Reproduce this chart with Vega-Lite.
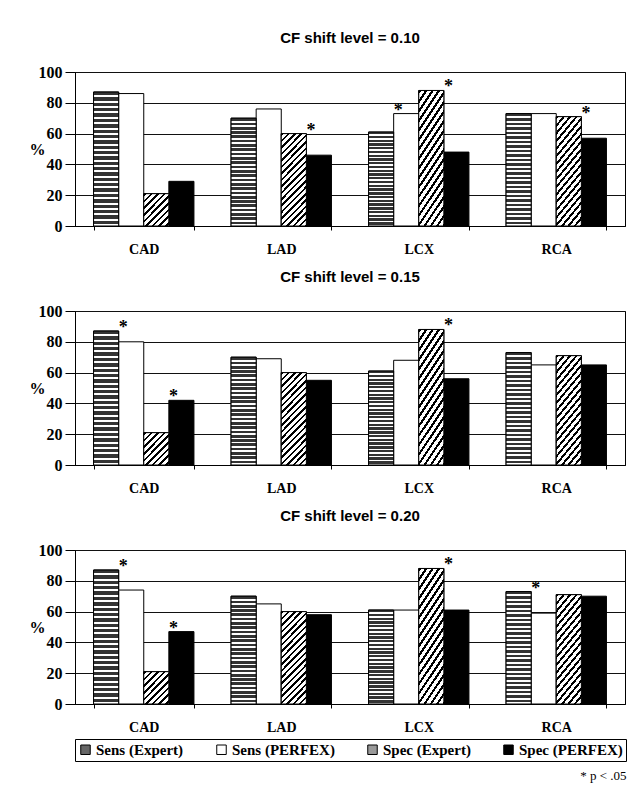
{
  "$schema": "https://vega.github.io/schema/vega-lite/v6.json",
  "padding": {"left": 28, "top": 30, "right": 0, "bottom": 0},
  "background": "white",
  "datasets": {
    "bars": [
      {"shift": "0.10", "region": "CAD", "series": "Sens (Expert)", "value": 87},
      {"shift": "0.10", "region": "CAD", "series": "Sens (PERFEX)", "value": 86},
      {"shift": "0.10", "region": "CAD", "series": "Spec (Expert)", "value": 21},
      {"shift": "0.10", "region": "CAD", "series": "Spec (PERFEX)", "value": 29},
      {"shift": "0.10", "region": "LAD", "series": "Sens (Expert)", "value": 70},
      {"shift": "0.10", "region": "LAD", "series": "Sens (PERFEX)", "value": 76},
      {"shift": "0.10", "region": "LAD", "series": "Spec (Expert)", "value": 60},
      {"shift": "0.10", "region": "LAD", "series": "Spec (PERFEX)", "value": 46},
      {"shift": "0.10", "region": "LCX", "series": "Sens (Expert)", "value": 61},
      {"shift": "0.10", "region": "LCX", "series": "Sens (PERFEX)", "value": 73},
      {"shift": "0.10", "region": "LCX", "series": "Spec (Expert)", "value": 88},
      {"shift": "0.10", "region": "LCX", "series": "Spec (PERFEX)", "value": 48},
      {"shift": "0.10", "region": "RCA", "series": "Sens (Expert)", "value": 73},
      {"shift": "0.10", "region": "RCA", "series": "Sens (PERFEX)", "value": 73},
      {"shift": "0.10", "region": "RCA", "series": "Spec (Expert)", "value": 71},
      {"shift": "0.10", "region": "RCA", "series": "Spec (PERFEX)", "value": 57},
      {"shift": "0.15", "region": "CAD", "series": "Sens (Expert)", "value": 87},
      {"shift": "0.15", "region": "CAD", "series": "Sens (PERFEX)", "value": 80},
      {"shift": "0.15", "region": "CAD", "series": "Spec (Expert)", "value": 21},
      {"shift": "0.15", "region": "CAD", "series": "Spec (PERFEX)", "value": 42},
      {"shift": "0.15", "region": "LAD", "series": "Sens (Expert)", "value": 70},
      {"shift": "0.15", "region": "LAD", "series": "Sens (PERFEX)", "value": 69},
      {"shift": "0.15", "region": "LAD", "series": "Spec (Expert)", "value": 60},
      {"shift": "0.15", "region": "LAD", "series": "Spec (PERFEX)", "value": 55},
      {"shift": "0.15", "region": "LCX", "series": "Sens (Expert)", "value": 61},
      {"shift": "0.15", "region": "LCX", "series": "Sens (PERFEX)", "value": 68},
      {"shift": "0.15", "region": "LCX", "series": "Spec (Expert)", "value": 88},
      {"shift": "0.15", "region": "LCX", "series": "Spec (PERFEX)", "value": 56},
      {"shift": "0.15", "region": "RCA", "series": "Sens (Expert)", "value": 73},
      {"shift": "0.15", "region": "RCA", "series": "Sens (PERFEX)", "value": 65},
      {"shift": "0.15", "region": "RCA", "series": "Spec (Expert)", "value": 71},
      {"shift": "0.15", "region": "RCA", "series": "Spec (PERFEX)", "value": 65},
      {"shift": "0.20", "region": "CAD", "series": "Sens (Expert)", "value": 87},
      {"shift": "0.20", "region": "CAD", "series": "Sens (PERFEX)", "value": 74},
      {"shift": "0.20", "region": "CAD", "series": "Spec (Expert)", "value": 21},
      {"shift": "0.20", "region": "CAD", "series": "Spec (PERFEX)", "value": 47},
      {"shift": "0.20", "region": "LAD", "series": "Sens (Expert)", "value": 70},
      {"shift": "0.20", "region": "LAD", "series": "Sens (PERFEX)", "value": 65},
      {"shift": "0.20", "region": "LAD", "series": "Spec (Expert)", "value": 60},
      {"shift": "0.20", "region": "LAD", "series": "Spec (PERFEX)", "value": 58},
      {"shift": "0.20", "region": "LCX", "series": "Sens (Expert)", "value": 61},
      {"shift": "0.20", "region": "LCX", "series": "Sens (PERFEX)", "value": 61},
      {"shift": "0.20", "region": "LCX", "series": "Spec (Expert)", "value": 88},
      {"shift": "0.20", "region": "LCX", "series": "Spec (PERFEX)", "value": 61},
      {"shift": "0.20", "region": "RCA", "series": "Sens (Expert)", "value": 73},
      {"shift": "0.20", "region": "RCA", "series": "Sens (PERFEX)", "value": 59},
      {"shift": "0.20", "region": "RCA", "series": "Spec (Expert)", "value": 71},
      {"shift": "0.20", "region": "RCA", "series": "Spec (PERFEX)", "value": 70}
    ],
    "stars": [
      {"shift": "0.10", "region": "LAD", "series": "Spec (PERFEX)", "value": 60},
      {"shift": "0.10", "region": "LCX", "series": "Sens (PERFEX)", "value": 73},
      {"shift": "0.10", "region": "LCX", "series": "Spec (PERFEX)", "value": 88},
      {"shift": "0.10", "region": "RCA", "series": "Spec (PERFEX)", "value": 71},
      {"shift": "0.15", "region": "CAD", "series": "Sens (PERFEX)", "value": 87},
      {"shift": "0.15", "region": "CAD", "series": "Spec (PERFEX)", "value": 42},
      {"shift": "0.15", "region": "LCX", "series": "Spec (PERFEX)", "value": 88},
      {"shift": "0.20", "region": "CAD", "series": "Sens (PERFEX)", "value": 87},
      {"shift": "0.20", "region": "CAD", "series": "Spec (PERFEX)", "value": 47},
      {"shift": "0.20", "region": "LCX", "series": "Spec (PERFEX)", "value": 88},
      {"shift": "0.20", "region": "RCA", "series": "Sens (PERFEX)", "value": 73}
    ]
  },
  "title": {"text": "* p < .05", "orient": "bottom", "anchor": "end", "font": "Liberation Serif", "fontSize": 13, "fontWeight": "normal", "color": "black", "offset": 8},
  "spacing": 12,
  "vconcat": [
    {
      "title": {"text": "CF shift level = 0.10"},
      "width": 550, "height": 154,
      "encoding": {
        "x": {"field": "region", "type": "nominal", "sort": ["CAD", "LAD", "LCX", "RCA"], "scale": {"paddingInner": 0.27, "paddingOuter": 0.135}, "axis": {"title": null}},
        "xOffset": {"field": "series", "type": "nominal", "scale": {"domain": ["Sens (Expert)", "Sens (PERFEX)", "Spec (Expert)", "Spec (PERFEX)"], "paddingInner": 0, "paddingOuter": 0}},
        "y": {"field": "value", "type": "quantitative", "scale": {"domain": [0, 100]}, "axis": {"title": "%"}}
      },
      "layer": [
        {"data": {"name": "bars"}, "transform": [{"filter": "datum.shift === '0.10'"}],
         "mark": {"type": "bar", "stroke": "black", "strokeWidth": 1, "opacity": 1},
         "encoding": {"color": {"field": "series", "type": "nominal", "scale": {"domain": ["Sens (Expert)", "Sens (PERFEX)", "Spec (Expert)", "Spec (PERFEX)"], "range": ["#666666", "#ffffff", "#9a9a9a", "#000000"]}, "legend": {"title": null}}}},
        {"data": {"name": "bars"}, "transform": [{"filter": "datum.shift === '0.10' && datum.series === 'Sens (Expert)'"}],
         "mark": {"type": "bar", "stroke": "black", "strokeWidth": 1, "fill": {"gradient": "linear", "x1": 0, "y1": 0, "x2": 0, "y2": 1, "stops": [
               {"offset": 0, "color": "#333"}, {"offset": 0.025, "color": "#333"}, {"offset": 0.025, "color": "#fff"}, {"offset": 0.04, "color": "#fff"},
               {"offset": 0.04, "color": "#333"}, {"offset": 0.065, "color": "#333"}, {"offset": 0.065, "color": "#fff"}, {"offset": 0.08, "color": "#fff"},
               {"offset": 0.08, "color": "#333"}, {"offset": 0.105, "color": "#333"}, {"offset": 0.105, "color": "#fff"}, {"offset": 0.12, "color": "#fff"},
               {"offset": 0.12, "color": "#333"}, {"offset": 0.145, "color": "#333"}, {"offset": 0.145, "color": "#fff"}, {"offset": 0.16, "color": "#fff"},
               {"offset": 0.16, "color": "#333"}, {"offset": 0.185, "color": "#333"}, {"offset": 0.185, "color": "#fff"}, {"offset": 0.2, "color": "#fff"},
               {"offset": 0.2, "color": "#333"}, {"offset": 0.225, "color": "#333"}, {"offset": 0.225, "color": "#fff"}, {"offset": 0.24, "color": "#fff"},
               {"offset": 0.24, "color": "#333"}, {"offset": 0.265, "color": "#333"}, {"offset": 0.265, "color": "#fff"}, {"offset": 0.28, "color": "#fff"},
               {"offset": 0.28, "color": "#333"}, {"offset": 0.305, "color": "#333"}, {"offset": 0.305, "color": "#fff"}, {"offset": 0.32, "color": "#fff"},
               {"offset": 0.32, "color": "#333"}, {"offset": 0.345, "color": "#333"}, {"offset": 0.345, "color": "#fff"}, {"offset": 0.36, "color": "#fff"},
               {"offset": 0.36, "color": "#333"}, {"offset": 0.385, "color": "#333"}, {"offset": 0.385, "color": "#fff"}, {"offset": 0.4, "color": "#fff"},
               {"offset": 0.4, "color": "#333"}, {"offset": 0.425, "color": "#333"}, {"offset": 0.425, "color": "#fff"}, {"offset": 0.44, "color": "#fff"},
               {"offset": 0.44, "color": "#333"}, {"offset": 0.465, "color": "#333"}, {"offset": 0.465, "color": "#fff"}, {"offset": 0.48, "color": "#fff"},
               {"offset": 0.48, "color": "#333"}, {"offset": 0.505, "color": "#333"}, {"offset": 0.505, "color": "#fff"}, {"offset": 0.52, "color": "#fff"},
               {"offset": 0.52, "color": "#333"}, {"offset": 0.545, "color": "#333"}, {"offset": 0.545, "color": "#fff"}, {"offset": 0.56, "color": "#fff"},
               {"offset": 0.56, "color": "#333"}, {"offset": 0.585, "color": "#333"}, {"offset": 0.585, "color": "#fff"}, {"offset": 0.6, "color": "#fff"},
               {"offset": 0.6, "color": "#333"}, {"offset": 0.625, "color": "#333"}, {"offset": 0.625, "color": "#fff"}, {"offset": 0.64, "color": "#fff"},
               {"offset": 0.64, "color": "#333"}, {"offset": 0.665, "color": "#333"}, {"offset": 0.665, "color": "#fff"}, {"offset": 0.68, "color": "#fff"},
               {"offset": 0.68, "color": "#333"}, {"offset": 0.705, "color": "#333"}, {"offset": 0.705, "color": "#fff"}, {"offset": 0.72, "color": "#fff"},
               {"offset": 0.72, "color": "#333"}, {"offset": 0.745, "color": "#333"}, {"offset": 0.745, "color": "#fff"}, {"offset": 0.76, "color": "#fff"},
               {"offset": 0.76, "color": "#333"}, {"offset": 0.785, "color": "#333"}, {"offset": 0.785, "color": "#fff"}, {"offset": 0.8, "color": "#fff"},
               {"offset": 0.8, "color": "#333"}, {"offset": 0.825, "color": "#333"}, {"offset": 0.825, "color": "#fff"}, {"offset": 0.84, "color": "#fff"},
               {"offset": 0.84, "color": "#333"}, {"offset": 0.865, "color": "#333"}, {"offset": 0.865, "color": "#fff"}, {"offset": 0.88, "color": "#fff"},
               {"offset": 0.88, "color": "#333"}, {"offset": 0.905, "color": "#333"}, {"offset": 0.905, "color": "#fff"}, {"offset": 0.92, "color": "#fff"},
               {"offset": 0.92, "color": "#333"}, {"offset": 0.945, "color": "#333"}, {"offset": 0.945, "color": "#fff"}, {"offset": 0.96, "color": "#fff"},
               {"offset": 0.96, "color": "#333"}, {"offset": 0.985, "color": "#333"}, {"offset": 0.985, "color": "#fff"}, {"offset": 1, "color": "#fff"}
             ]}},
         "encoding": {}},
        {"data": {"name": "bars"}, "transform": [{"filter": "datum.shift === '0.10' && datum.series === 'Spec (Expert)' && datum.value >= 40"}],
         "mark": {"type": "bar", "stroke": "black", "strokeWidth": 1, "fill": {"gradient": "linear", "x1": 0, "y1": 0, "x2": 0.36, "y2": 1.3, "stops": [
               {"offset": 0, "color": "#000"}, {"offset": 0.02, "color": "#000"}, {"offset": 0.02, "color": "#fff"}, {"offset": 0.05, "color": "#fff"},
               {"offset": 0.05, "color": "#000"}, {"offset": 0.07, "color": "#000"}, {"offset": 0.07, "color": "#fff"}, {"offset": 0.1, "color": "#fff"},
               {"offset": 0.1, "color": "#000"}, {"offset": 0.12, "color": "#000"}, {"offset": 0.12, "color": "#fff"}, {"offset": 0.15, "color": "#fff"},
               {"offset": 0.15, "color": "#000"}, {"offset": 0.17, "color": "#000"}, {"offset": 0.17, "color": "#fff"}, {"offset": 0.2, "color": "#fff"},
               {"offset": 0.2, "color": "#000"}, {"offset": 0.22, "color": "#000"}, {"offset": 0.22, "color": "#fff"}, {"offset": 0.25, "color": "#fff"},
               {"offset": 0.25, "color": "#000"}, {"offset": 0.27, "color": "#000"}, {"offset": 0.27, "color": "#fff"}, {"offset": 0.3, "color": "#fff"},
               {"offset": 0.3, "color": "#000"}, {"offset": 0.32, "color": "#000"}, {"offset": 0.32, "color": "#fff"}, {"offset": 0.35, "color": "#fff"},
               {"offset": 0.35, "color": "#000"}, {"offset": 0.37, "color": "#000"}, {"offset": 0.37, "color": "#fff"}, {"offset": 0.4, "color": "#fff"},
               {"offset": 0.4, "color": "#000"}, {"offset": 0.42, "color": "#000"}, {"offset": 0.42, "color": "#fff"}, {"offset": 0.45, "color": "#fff"},
               {"offset": 0.45, "color": "#000"}, {"offset": 0.47, "color": "#000"}, {"offset": 0.47, "color": "#fff"}, {"offset": 0.5, "color": "#fff"},
               {"offset": 0.5, "color": "#000"}, {"offset": 0.52, "color": "#000"}, {"offset": 0.52, "color": "#fff"}, {"offset": 0.55, "color": "#fff"},
               {"offset": 0.55, "color": "#000"}, {"offset": 0.57, "color": "#000"}, {"offset": 0.57, "color": "#fff"}, {"offset": 0.6, "color": "#fff"},
               {"offset": 0.6, "color": "#000"}, {"offset": 0.62, "color": "#000"}, {"offset": 0.62, "color": "#fff"}, {"offset": 0.65, "color": "#fff"},
               {"offset": 0.65, "color": "#000"}, {"offset": 0.67, "color": "#000"}, {"offset": 0.67, "color": "#fff"}, {"offset": 0.7, "color": "#fff"},
               {"offset": 0.7, "color": "#000"}, {"offset": 0.72, "color": "#000"}, {"offset": 0.72, "color": "#fff"}, {"offset": 0.75, "color": "#fff"},
               {"offset": 0.75, "color": "#000"}, {"offset": 0.77, "color": "#000"}, {"offset": 0.77, "color": "#fff"}, {"offset": 0.8, "color": "#fff"},
               {"offset": 0.8, "color": "#000"}, {"offset": 0.82, "color": "#000"}, {"offset": 0.82, "color": "#fff"}, {"offset": 0.85, "color": "#fff"},
               {"offset": 0.85, "color": "#000"}, {"offset": 0.87, "color": "#000"}, {"offset": 0.87, "color": "#fff"}, {"offset": 0.9, "color": "#fff"},
               {"offset": 0.9, "color": "#000"}, {"offset": 0.92, "color": "#000"}, {"offset": 0.92, "color": "#fff"}, {"offset": 0.95, "color": "#fff"},
               {"offset": 0.95, "color": "#000"}, {"offset": 0.97, "color": "#000"}, {"offset": 0.97, "color": "#fff"}, {"offset": 1, "color": "#fff"}
             ]}},
         "encoding": {}},
        {"data": {"name": "bars"}, "transform": [{"filter": "datum.shift === '0.10' && datum.series === 'Spec (Expert)' && datum.value < 40"}],
         "mark": {"type": "bar", "stroke": "black", "strokeWidth": 1, "fill": {"gradient": "linear", "x1": 0, "y1": 0, "x2": 0.9, "y2": 1.15, "stops": [
               {"offset": 0, "color": "#000"}, {"offset": 0.045, "color": "#000"}, {"offset": 0.045, "color": "#fff"}, {"offset": 0.1111, "color": "#fff"},
               {"offset": 0.1111, "color": "#000"}, {"offset": 0.1561, "color": "#000"}, {"offset": 0.1561, "color": "#fff"}, {"offset": 0.2222, "color": "#fff"},
               {"offset": 0.2222, "color": "#000"}, {"offset": 0.2672, "color": "#000"}, {"offset": 0.2672, "color": "#fff"}, {"offset": 0.3333, "color": "#fff"},
               {"offset": 0.3333, "color": "#000"}, {"offset": 0.3783, "color": "#000"}, {"offset": 0.3783, "color": "#fff"}, {"offset": 0.4444, "color": "#fff"},
               {"offset": 0.4444, "color": "#000"}, {"offset": 0.4894, "color": "#000"}, {"offset": 0.4894, "color": "#fff"}, {"offset": 0.5556, "color": "#fff"},
               {"offset": 0.5556, "color": "#000"}, {"offset": 0.6006, "color": "#000"}, {"offset": 0.6006, "color": "#fff"}, {"offset": 0.6667, "color": "#fff"},
               {"offset": 0.6667, "color": "#000"}, {"offset": 0.7117, "color": "#000"}, {"offset": 0.7117, "color": "#fff"}, {"offset": 0.7778, "color": "#fff"},
               {"offset": 0.7778, "color": "#000"}, {"offset": 0.8228, "color": "#000"}, {"offset": 0.8228, "color": "#fff"}, {"offset": 0.8889, "color": "#fff"},
               {"offset": 0.8889, "color": "#000"}, {"offset": 0.9339, "color": "#000"}, {"offset": 0.9339, "color": "#fff"}, {"offset": 1, "color": "#fff"}
             ]}},
         "encoding": {}},
        {"data": {"name": "stars"}, "transform": [{"filter": "datum.shift === '0.10'"}],
         "mark": {"type": "text", "text": "*", "font": "Liberation Serif", "fontSize": 18, "fontWeight": "bold", "color": "black", "baseline": "middle", "dx": -8, "dy": -3},
         "encoding": {}}
      ]
    },
    {
      "title": {"text": "CF shift level = 0.15"},
      "width": 550, "height": 154,
      "encoding": {
        "x": {"field": "region", "type": "nominal", "sort": ["CAD", "LAD", "LCX", "RCA"], "scale": {"paddingInner": 0.27, "paddingOuter": 0.135}, "axis": {"title": null}},
        "xOffset": {"field": "series", "type": "nominal", "scale": {"domain": ["Sens (Expert)", "Sens (PERFEX)", "Spec (Expert)", "Spec (PERFEX)"], "paddingInner": 0, "paddingOuter": 0}},
        "y": {"field": "value", "type": "quantitative", "scale": {"domain": [0, 100]}, "axis": {"title": "%"}}
      },
      "layer": [
        {"data": {"name": "bars"}, "transform": [{"filter": "datum.shift === '0.15'"}],
         "mark": {"type": "bar", "stroke": "black", "strokeWidth": 1, "opacity": 1},
         "encoding": {"color": {"field": "series", "type": "nominal", "legend": {"title": null}}}},
        {"data": {"name": "bars"}, "transform": [{"filter": "datum.shift === '0.15' && datum.series === 'Sens (Expert)'"}],
         "mark": {"type": "bar", "stroke": "black", "strokeWidth": 1, "fill": {"gradient": "linear", "x1": 0, "y1": 0, "x2": 0, "y2": 1, "stops": [
               {"offset": 0, "color": "#333"}, {"offset": 0.025, "color": "#333"}, {"offset": 0.025, "color": "#fff"}, {"offset": 0.04, "color": "#fff"},
               {"offset": 0.04, "color": "#333"}, {"offset": 0.065, "color": "#333"}, {"offset": 0.065, "color": "#fff"}, {"offset": 0.08, "color": "#fff"},
               {"offset": 0.08, "color": "#333"}, {"offset": 0.105, "color": "#333"}, {"offset": 0.105, "color": "#fff"}, {"offset": 0.12, "color": "#fff"},
               {"offset": 0.12, "color": "#333"}, {"offset": 0.145, "color": "#333"}, {"offset": 0.145, "color": "#fff"}, {"offset": 0.16, "color": "#fff"},
               {"offset": 0.16, "color": "#333"}, {"offset": 0.185, "color": "#333"}, {"offset": 0.185, "color": "#fff"}, {"offset": 0.2, "color": "#fff"},
               {"offset": 0.2, "color": "#333"}, {"offset": 0.225, "color": "#333"}, {"offset": 0.225, "color": "#fff"}, {"offset": 0.24, "color": "#fff"},
               {"offset": 0.24, "color": "#333"}, {"offset": 0.265, "color": "#333"}, {"offset": 0.265, "color": "#fff"}, {"offset": 0.28, "color": "#fff"},
               {"offset": 0.28, "color": "#333"}, {"offset": 0.305, "color": "#333"}, {"offset": 0.305, "color": "#fff"}, {"offset": 0.32, "color": "#fff"},
               {"offset": 0.32, "color": "#333"}, {"offset": 0.345, "color": "#333"}, {"offset": 0.345, "color": "#fff"}, {"offset": 0.36, "color": "#fff"},
               {"offset": 0.36, "color": "#333"}, {"offset": 0.385, "color": "#333"}, {"offset": 0.385, "color": "#fff"}, {"offset": 0.4, "color": "#fff"},
               {"offset": 0.4, "color": "#333"}, {"offset": 0.425, "color": "#333"}, {"offset": 0.425, "color": "#fff"}, {"offset": 0.44, "color": "#fff"},
               {"offset": 0.44, "color": "#333"}, {"offset": 0.465, "color": "#333"}, {"offset": 0.465, "color": "#fff"}, {"offset": 0.48, "color": "#fff"},
               {"offset": 0.48, "color": "#333"}, {"offset": 0.505, "color": "#333"}, {"offset": 0.505, "color": "#fff"}, {"offset": 0.52, "color": "#fff"},
               {"offset": 0.52, "color": "#333"}, {"offset": 0.545, "color": "#333"}, {"offset": 0.545, "color": "#fff"}, {"offset": 0.56, "color": "#fff"},
               {"offset": 0.56, "color": "#333"}, {"offset": 0.585, "color": "#333"}, {"offset": 0.585, "color": "#fff"}, {"offset": 0.6, "color": "#fff"},
               {"offset": 0.6, "color": "#333"}, {"offset": 0.625, "color": "#333"}, {"offset": 0.625, "color": "#fff"}, {"offset": 0.64, "color": "#fff"},
               {"offset": 0.64, "color": "#333"}, {"offset": 0.665, "color": "#333"}, {"offset": 0.665, "color": "#fff"}, {"offset": 0.68, "color": "#fff"},
               {"offset": 0.68, "color": "#333"}, {"offset": 0.705, "color": "#333"}, {"offset": 0.705, "color": "#fff"}, {"offset": 0.72, "color": "#fff"},
               {"offset": 0.72, "color": "#333"}, {"offset": 0.745, "color": "#333"}, {"offset": 0.745, "color": "#fff"}, {"offset": 0.76, "color": "#fff"},
               {"offset": 0.76, "color": "#333"}, {"offset": 0.785, "color": "#333"}, {"offset": 0.785, "color": "#fff"}, {"offset": 0.8, "color": "#fff"},
               {"offset": 0.8, "color": "#333"}, {"offset": 0.825, "color": "#333"}, {"offset": 0.825, "color": "#fff"}, {"offset": 0.84, "color": "#fff"},
               {"offset": 0.84, "color": "#333"}, {"offset": 0.865, "color": "#333"}, {"offset": 0.865, "color": "#fff"}, {"offset": 0.88, "color": "#fff"},
               {"offset": 0.88, "color": "#333"}, {"offset": 0.905, "color": "#333"}, {"offset": 0.905, "color": "#fff"}, {"offset": 0.92, "color": "#fff"},
               {"offset": 0.92, "color": "#333"}, {"offset": 0.945, "color": "#333"}, {"offset": 0.945, "color": "#fff"}, {"offset": 0.96, "color": "#fff"},
               {"offset": 0.96, "color": "#333"}, {"offset": 0.985, "color": "#333"}, {"offset": 0.985, "color": "#fff"}, {"offset": 1, "color": "#fff"}
             ]}},
         "encoding": {}},
        {"data": {"name": "bars"}, "transform": [{"filter": "datum.shift === '0.15' && datum.series === 'Spec (Expert)' && datum.value >= 40"}],
         "mark": {"type": "bar", "stroke": "black", "strokeWidth": 1, "fill": {"gradient": "linear", "x1": 0, "y1": 0, "x2": 0.36, "y2": 1.3, "stops": [
               {"offset": 0, "color": "#000"}, {"offset": 0.02, "color": "#000"}, {"offset": 0.02, "color": "#fff"}, {"offset": 0.05, "color": "#fff"},
               {"offset": 0.05, "color": "#000"}, {"offset": 0.07, "color": "#000"}, {"offset": 0.07, "color": "#fff"}, {"offset": 0.1, "color": "#fff"},
               {"offset": 0.1, "color": "#000"}, {"offset": 0.12, "color": "#000"}, {"offset": 0.12, "color": "#fff"}, {"offset": 0.15, "color": "#fff"},
               {"offset": 0.15, "color": "#000"}, {"offset": 0.17, "color": "#000"}, {"offset": 0.17, "color": "#fff"}, {"offset": 0.2, "color": "#fff"},
               {"offset": 0.2, "color": "#000"}, {"offset": 0.22, "color": "#000"}, {"offset": 0.22, "color": "#fff"}, {"offset": 0.25, "color": "#fff"},
               {"offset": 0.25, "color": "#000"}, {"offset": 0.27, "color": "#000"}, {"offset": 0.27, "color": "#fff"}, {"offset": 0.3, "color": "#fff"},
               {"offset": 0.3, "color": "#000"}, {"offset": 0.32, "color": "#000"}, {"offset": 0.32, "color": "#fff"}, {"offset": 0.35, "color": "#fff"},
               {"offset": 0.35, "color": "#000"}, {"offset": 0.37, "color": "#000"}, {"offset": 0.37, "color": "#fff"}, {"offset": 0.4, "color": "#fff"},
               {"offset": 0.4, "color": "#000"}, {"offset": 0.42, "color": "#000"}, {"offset": 0.42, "color": "#fff"}, {"offset": 0.45, "color": "#fff"},
               {"offset": 0.45, "color": "#000"}, {"offset": 0.47, "color": "#000"}, {"offset": 0.47, "color": "#fff"}, {"offset": 0.5, "color": "#fff"},
               {"offset": 0.5, "color": "#000"}, {"offset": 0.52, "color": "#000"}, {"offset": 0.52, "color": "#fff"}, {"offset": 0.55, "color": "#fff"},
               {"offset": 0.55, "color": "#000"}, {"offset": 0.57, "color": "#000"}, {"offset": 0.57, "color": "#fff"}, {"offset": 0.6, "color": "#fff"},
               {"offset": 0.6, "color": "#000"}, {"offset": 0.62, "color": "#000"}, {"offset": 0.62, "color": "#fff"}, {"offset": 0.65, "color": "#fff"},
               {"offset": 0.65, "color": "#000"}, {"offset": 0.67, "color": "#000"}, {"offset": 0.67, "color": "#fff"}, {"offset": 0.7, "color": "#fff"},
               {"offset": 0.7, "color": "#000"}, {"offset": 0.72, "color": "#000"}, {"offset": 0.72, "color": "#fff"}, {"offset": 0.75, "color": "#fff"},
               {"offset": 0.75, "color": "#000"}, {"offset": 0.77, "color": "#000"}, {"offset": 0.77, "color": "#fff"}, {"offset": 0.8, "color": "#fff"},
               {"offset": 0.8, "color": "#000"}, {"offset": 0.82, "color": "#000"}, {"offset": 0.82, "color": "#fff"}, {"offset": 0.85, "color": "#fff"},
               {"offset": 0.85, "color": "#000"}, {"offset": 0.87, "color": "#000"}, {"offset": 0.87, "color": "#fff"}, {"offset": 0.9, "color": "#fff"},
               {"offset": 0.9, "color": "#000"}, {"offset": 0.92, "color": "#000"}, {"offset": 0.92, "color": "#fff"}, {"offset": 0.95, "color": "#fff"},
               {"offset": 0.95, "color": "#000"}, {"offset": 0.97, "color": "#000"}, {"offset": 0.97, "color": "#fff"}, {"offset": 1, "color": "#fff"}
             ]}},
         "encoding": {}},
        {"data": {"name": "bars"}, "transform": [{"filter": "datum.shift === '0.15' && datum.series === 'Spec (Expert)' && datum.value < 40"}],
         "mark": {"type": "bar", "stroke": "black", "strokeWidth": 1, "fill": {"gradient": "linear", "x1": 0, "y1": 0, "x2": 0.9, "y2": 1.15, "stops": [
               {"offset": 0, "color": "#000"}, {"offset": 0.045, "color": "#000"}, {"offset": 0.045, "color": "#fff"}, {"offset": 0.1111, "color": "#fff"},
               {"offset": 0.1111, "color": "#000"}, {"offset": 0.1561, "color": "#000"}, {"offset": 0.1561, "color": "#fff"}, {"offset": 0.2222, "color": "#fff"},
               {"offset": 0.2222, "color": "#000"}, {"offset": 0.2672, "color": "#000"}, {"offset": 0.2672, "color": "#fff"}, {"offset": 0.3333, "color": "#fff"},
               {"offset": 0.3333, "color": "#000"}, {"offset": 0.3783, "color": "#000"}, {"offset": 0.3783, "color": "#fff"}, {"offset": 0.4444, "color": "#fff"},
               {"offset": 0.4444, "color": "#000"}, {"offset": 0.4894, "color": "#000"}, {"offset": 0.4894, "color": "#fff"}, {"offset": 0.5556, "color": "#fff"},
               {"offset": 0.5556, "color": "#000"}, {"offset": 0.6006, "color": "#000"}, {"offset": 0.6006, "color": "#fff"}, {"offset": 0.6667, "color": "#fff"},
               {"offset": 0.6667, "color": "#000"}, {"offset": 0.7117, "color": "#000"}, {"offset": 0.7117, "color": "#fff"}, {"offset": 0.7778, "color": "#fff"},
               {"offset": 0.7778, "color": "#000"}, {"offset": 0.8228, "color": "#000"}, {"offset": 0.8228, "color": "#fff"}, {"offset": 0.8889, "color": "#fff"},
               {"offset": 0.8889, "color": "#000"}, {"offset": 0.9339, "color": "#000"}, {"offset": 0.9339, "color": "#fff"}, {"offset": 1, "color": "#fff"}
             ]}},
         "encoding": {}},
        {"data": {"name": "stars"}, "transform": [{"filter": "datum.shift === '0.15'"}],
         "mark": {"type": "text", "text": "*", "font": "Liberation Serif", "fontSize": 18, "fontWeight": "bold", "color": "black", "baseline": "middle", "dx": -8, "dy": -3},
         "encoding": {}}
      ]
    },
    {
      "title": {"text": "CF shift level = 0.20"},
      "width": 550, "height": 154,
      "encoding": {
        "x": {"field": "region", "type": "nominal", "sort": ["CAD", "LAD", "LCX", "RCA"], "scale": {"paddingInner": 0.27, "paddingOuter": 0.135}, "axis": {"title": null}},
        "xOffset": {"field": "series", "type": "nominal", "scale": {"domain": ["Sens (Expert)", "Sens (PERFEX)", "Spec (Expert)", "Spec (PERFEX)"], "paddingInner": 0, "paddingOuter": 0}},
        "y": {"field": "value", "type": "quantitative", "scale": {"domain": [0, 100]}, "axis": {"title": "%"}}
      },
      "layer": [
        {"data": {"name": "bars"}, "transform": [{"filter": "datum.shift === '0.20'"}],
         "mark": {"type": "bar", "stroke": "black", "strokeWidth": 1, "opacity": 1},
         "encoding": {"color": {"field": "series", "type": "nominal", "legend": {"title": null}}}},
        {"data": {"name": "bars"}, "transform": [{"filter": "datum.shift === '0.20' && datum.series === 'Sens (Expert)'"}],
         "mark": {"type": "bar", "stroke": "black", "strokeWidth": 1, "fill": {"gradient": "linear", "x1": 0, "y1": 0, "x2": 0, "y2": 1, "stops": [
               {"offset": 0, "color": "#333"}, {"offset": 0.025, "color": "#333"}, {"offset": 0.025, "color": "#fff"}, {"offset": 0.04, "color": "#fff"},
               {"offset": 0.04, "color": "#333"}, {"offset": 0.065, "color": "#333"}, {"offset": 0.065, "color": "#fff"}, {"offset": 0.08, "color": "#fff"},
               {"offset": 0.08, "color": "#333"}, {"offset": 0.105, "color": "#333"}, {"offset": 0.105, "color": "#fff"}, {"offset": 0.12, "color": "#fff"},
               {"offset": 0.12, "color": "#333"}, {"offset": 0.145, "color": "#333"}, {"offset": 0.145, "color": "#fff"}, {"offset": 0.16, "color": "#fff"},
               {"offset": 0.16, "color": "#333"}, {"offset": 0.185, "color": "#333"}, {"offset": 0.185, "color": "#fff"}, {"offset": 0.2, "color": "#fff"},
               {"offset": 0.2, "color": "#333"}, {"offset": 0.225, "color": "#333"}, {"offset": 0.225, "color": "#fff"}, {"offset": 0.24, "color": "#fff"},
               {"offset": 0.24, "color": "#333"}, {"offset": 0.265, "color": "#333"}, {"offset": 0.265, "color": "#fff"}, {"offset": 0.28, "color": "#fff"},
               {"offset": 0.28, "color": "#333"}, {"offset": 0.305, "color": "#333"}, {"offset": 0.305, "color": "#fff"}, {"offset": 0.32, "color": "#fff"},
               {"offset": 0.32, "color": "#333"}, {"offset": 0.345, "color": "#333"}, {"offset": 0.345, "color": "#fff"}, {"offset": 0.36, "color": "#fff"},
               {"offset": 0.36, "color": "#333"}, {"offset": 0.385, "color": "#333"}, {"offset": 0.385, "color": "#fff"}, {"offset": 0.4, "color": "#fff"},
               {"offset": 0.4, "color": "#333"}, {"offset": 0.425, "color": "#333"}, {"offset": 0.425, "color": "#fff"}, {"offset": 0.44, "color": "#fff"},
               {"offset": 0.44, "color": "#333"}, {"offset": 0.465, "color": "#333"}, {"offset": 0.465, "color": "#fff"}, {"offset": 0.48, "color": "#fff"},
               {"offset": 0.48, "color": "#333"}, {"offset": 0.505, "color": "#333"}, {"offset": 0.505, "color": "#fff"}, {"offset": 0.52, "color": "#fff"},
               {"offset": 0.52, "color": "#333"}, {"offset": 0.545, "color": "#333"}, {"offset": 0.545, "color": "#fff"}, {"offset": 0.56, "color": "#fff"},
               {"offset": 0.56, "color": "#333"}, {"offset": 0.585, "color": "#333"}, {"offset": 0.585, "color": "#fff"}, {"offset": 0.6, "color": "#fff"},
               {"offset": 0.6, "color": "#333"}, {"offset": 0.625, "color": "#333"}, {"offset": 0.625, "color": "#fff"}, {"offset": 0.64, "color": "#fff"},
               {"offset": 0.64, "color": "#333"}, {"offset": 0.665, "color": "#333"}, {"offset": 0.665, "color": "#fff"}, {"offset": 0.68, "color": "#fff"},
               {"offset": 0.68, "color": "#333"}, {"offset": 0.705, "color": "#333"}, {"offset": 0.705, "color": "#fff"}, {"offset": 0.72, "color": "#fff"},
               {"offset": 0.72, "color": "#333"}, {"offset": 0.745, "color": "#333"}, {"offset": 0.745, "color": "#fff"}, {"offset": 0.76, "color": "#fff"},
               {"offset": 0.76, "color": "#333"}, {"offset": 0.785, "color": "#333"}, {"offset": 0.785, "color": "#fff"}, {"offset": 0.8, "color": "#fff"},
               {"offset": 0.8, "color": "#333"}, {"offset": 0.825, "color": "#333"}, {"offset": 0.825, "color": "#fff"}, {"offset": 0.84, "color": "#fff"},
               {"offset": 0.84, "color": "#333"}, {"offset": 0.865, "color": "#333"}, {"offset": 0.865, "color": "#fff"}, {"offset": 0.88, "color": "#fff"},
               {"offset": 0.88, "color": "#333"}, {"offset": 0.905, "color": "#333"}, {"offset": 0.905, "color": "#fff"}, {"offset": 0.92, "color": "#fff"},
               {"offset": 0.92, "color": "#333"}, {"offset": 0.945, "color": "#333"}, {"offset": 0.945, "color": "#fff"}, {"offset": 0.96, "color": "#fff"},
               {"offset": 0.96, "color": "#333"}, {"offset": 0.985, "color": "#333"}, {"offset": 0.985, "color": "#fff"}, {"offset": 1, "color": "#fff"}
             ]}},
         "encoding": {}},
        {"data": {"name": "bars"}, "transform": [{"filter": "datum.shift === '0.20' && datum.series === 'Spec (Expert)' && datum.value >= 40"}],
         "mark": {"type": "bar", "stroke": "black", "strokeWidth": 1, "fill": {"gradient": "linear", "x1": 0, "y1": 0, "x2": 0.36, "y2": 1.3, "stops": [
               {"offset": 0, "color": "#000"}, {"offset": 0.02, "color": "#000"}, {"offset": 0.02, "color": "#fff"}, {"offset": 0.05, "color": "#fff"},
               {"offset": 0.05, "color": "#000"}, {"offset": 0.07, "color": "#000"}, {"offset": 0.07, "color": "#fff"}, {"offset": 0.1, "color": "#fff"},
               {"offset": 0.1, "color": "#000"}, {"offset": 0.12, "color": "#000"}, {"offset": 0.12, "color": "#fff"}, {"offset": 0.15, "color": "#fff"},
               {"offset": 0.15, "color": "#000"}, {"offset": 0.17, "color": "#000"}, {"offset": 0.17, "color": "#fff"}, {"offset": 0.2, "color": "#fff"},
               {"offset": 0.2, "color": "#000"}, {"offset": 0.22, "color": "#000"}, {"offset": 0.22, "color": "#fff"}, {"offset": 0.25, "color": "#fff"},
               {"offset": 0.25, "color": "#000"}, {"offset": 0.27, "color": "#000"}, {"offset": 0.27, "color": "#fff"}, {"offset": 0.3, "color": "#fff"},
               {"offset": 0.3, "color": "#000"}, {"offset": 0.32, "color": "#000"}, {"offset": 0.32, "color": "#fff"}, {"offset": 0.35, "color": "#fff"},
               {"offset": 0.35, "color": "#000"}, {"offset": 0.37, "color": "#000"}, {"offset": 0.37, "color": "#fff"}, {"offset": 0.4, "color": "#fff"},
               {"offset": 0.4, "color": "#000"}, {"offset": 0.42, "color": "#000"}, {"offset": 0.42, "color": "#fff"}, {"offset": 0.45, "color": "#fff"},
               {"offset": 0.45, "color": "#000"}, {"offset": 0.47, "color": "#000"}, {"offset": 0.47, "color": "#fff"}, {"offset": 0.5, "color": "#fff"},
               {"offset": 0.5, "color": "#000"}, {"offset": 0.52, "color": "#000"}, {"offset": 0.52, "color": "#fff"}, {"offset": 0.55, "color": "#fff"},
               {"offset": 0.55, "color": "#000"}, {"offset": 0.57, "color": "#000"}, {"offset": 0.57, "color": "#fff"}, {"offset": 0.6, "color": "#fff"},
               {"offset": 0.6, "color": "#000"}, {"offset": 0.62, "color": "#000"}, {"offset": 0.62, "color": "#fff"}, {"offset": 0.65, "color": "#fff"},
               {"offset": 0.65, "color": "#000"}, {"offset": 0.67, "color": "#000"}, {"offset": 0.67, "color": "#fff"}, {"offset": 0.7, "color": "#fff"},
               {"offset": 0.7, "color": "#000"}, {"offset": 0.72, "color": "#000"}, {"offset": 0.72, "color": "#fff"}, {"offset": 0.75, "color": "#fff"},
               {"offset": 0.75, "color": "#000"}, {"offset": 0.77, "color": "#000"}, {"offset": 0.77, "color": "#fff"}, {"offset": 0.8, "color": "#fff"},
               {"offset": 0.8, "color": "#000"}, {"offset": 0.82, "color": "#000"}, {"offset": 0.82, "color": "#fff"}, {"offset": 0.85, "color": "#fff"},
               {"offset": 0.85, "color": "#000"}, {"offset": 0.87, "color": "#000"}, {"offset": 0.87, "color": "#fff"}, {"offset": 0.9, "color": "#fff"},
               {"offset": 0.9, "color": "#000"}, {"offset": 0.92, "color": "#000"}, {"offset": 0.92, "color": "#fff"}, {"offset": 0.95, "color": "#fff"},
               {"offset": 0.95, "color": "#000"}, {"offset": 0.97, "color": "#000"}, {"offset": 0.97, "color": "#fff"}, {"offset": 1, "color": "#fff"}
             ]}},
         "encoding": {}},
        {"data": {"name": "bars"}, "transform": [{"filter": "datum.shift === '0.20' && datum.series === 'Spec (Expert)' && datum.value < 40"}],
         "mark": {"type": "bar", "stroke": "black", "strokeWidth": 1, "fill": {"gradient": "linear", "x1": 0, "y1": 0, "x2": 0.9, "y2": 1.15, "stops": [
               {"offset": 0, "color": "#000"}, {"offset": 0.045, "color": "#000"}, {"offset": 0.045, "color": "#fff"}, {"offset": 0.1111, "color": "#fff"},
               {"offset": 0.1111, "color": "#000"}, {"offset": 0.1561, "color": "#000"}, {"offset": 0.1561, "color": "#fff"}, {"offset": 0.2222, "color": "#fff"},
               {"offset": 0.2222, "color": "#000"}, {"offset": 0.2672, "color": "#000"}, {"offset": 0.2672, "color": "#fff"}, {"offset": 0.3333, "color": "#fff"},
               {"offset": 0.3333, "color": "#000"}, {"offset": 0.3783, "color": "#000"}, {"offset": 0.3783, "color": "#fff"}, {"offset": 0.4444, "color": "#fff"},
               {"offset": 0.4444, "color": "#000"}, {"offset": 0.4894, "color": "#000"}, {"offset": 0.4894, "color": "#fff"}, {"offset": 0.5556, "color": "#fff"},
               {"offset": 0.5556, "color": "#000"}, {"offset": 0.6006, "color": "#000"}, {"offset": 0.6006, "color": "#fff"}, {"offset": 0.6667, "color": "#fff"},
               {"offset": 0.6667, "color": "#000"}, {"offset": 0.7117, "color": "#000"}, {"offset": 0.7117, "color": "#fff"}, {"offset": 0.7778, "color": "#fff"},
               {"offset": 0.7778, "color": "#000"}, {"offset": 0.8228, "color": "#000"}, {"offset": 0.8228, "color": "#fff"}, {"offset": 0.8889, "color": "#fff"},
               {"offset": 0.8889, "color": "#000"}, {"offset": 0.9339, "color": "#000"}, {"offset": 0.9339, "color": "#fff"}, {"offset": 1, "color": "#fff"}
             ]}},
         "encoding": {}},
        {"data": {"name": "stars"}, "transform": [{"filter": "datum.shift === '0.20'"}],
         "mark": {"type": "text", "text": "*", "font": "Liberation Serif", "fontSize": 18, "fontWeight": "bold", "color": "black", "baseline": "middle", "dx": -8, "dy": -3},
         "encoding": {}}
      ]
    }
  ],
  "resolve": {"scale": {"x": "independent", "y": "independent", "xOffset": "independent"}},
  "config": {
    "view": {"stroke": "black", "strokeWidth": 1},
    "title": {"font": "Liberation Sans", "fontSize": 15, "fontWeight": "bold", "color": "black", "offset": 18, "anchor": "middle"},
    "axisX": {"labelAngle": 0, "labelFont": "Liberation Serif", "labelFontSize": 14, "labelFontWeight": "bold", "labelColor": "black", "labelPadding": 12, "tickSize": 4, "tickBand": "extent", "tickColor": "black", "domainColor": "black", "grid": false},
    "axisY": {"titleAngle": 0, "titleX": -38, "titleY": 77, "titleAlign": "center", "titleBaseline": "middle", "titleFont": "Liberation Serif", "titleFontSize": 16, "titleFontWeight": "bold", "titleColor": "black", "values": [0, 20, 40, 60, 80, 100], "tickSize": 10, "labelPadding": 3, "labelFont": "Liberation Serif", "labelFontSize": 16, "labelFontWeight": "bold", "labelColor": "black", "grid": true, "gridColor": "#111", "gridOpacity": 1, "tickColor": "black", "domainColor": "black"},
    "legend": {"orient": "bottom", "direction": "horizontal", "strokeColor": "black", "padding": 3, "labelFont": "Liberation Serif", "labelFontSize": 15, "labelFontWeight": "bold", "labelColor": "black", "symbolType": "square", "symbolSize": 90, "symbolStrokeColor": "black", "symbolStrokeWidth": 1, "symbolOpacity": 1, "columnPadding": 30, "labelOffset": 3, "offset": 4}
  }
}
